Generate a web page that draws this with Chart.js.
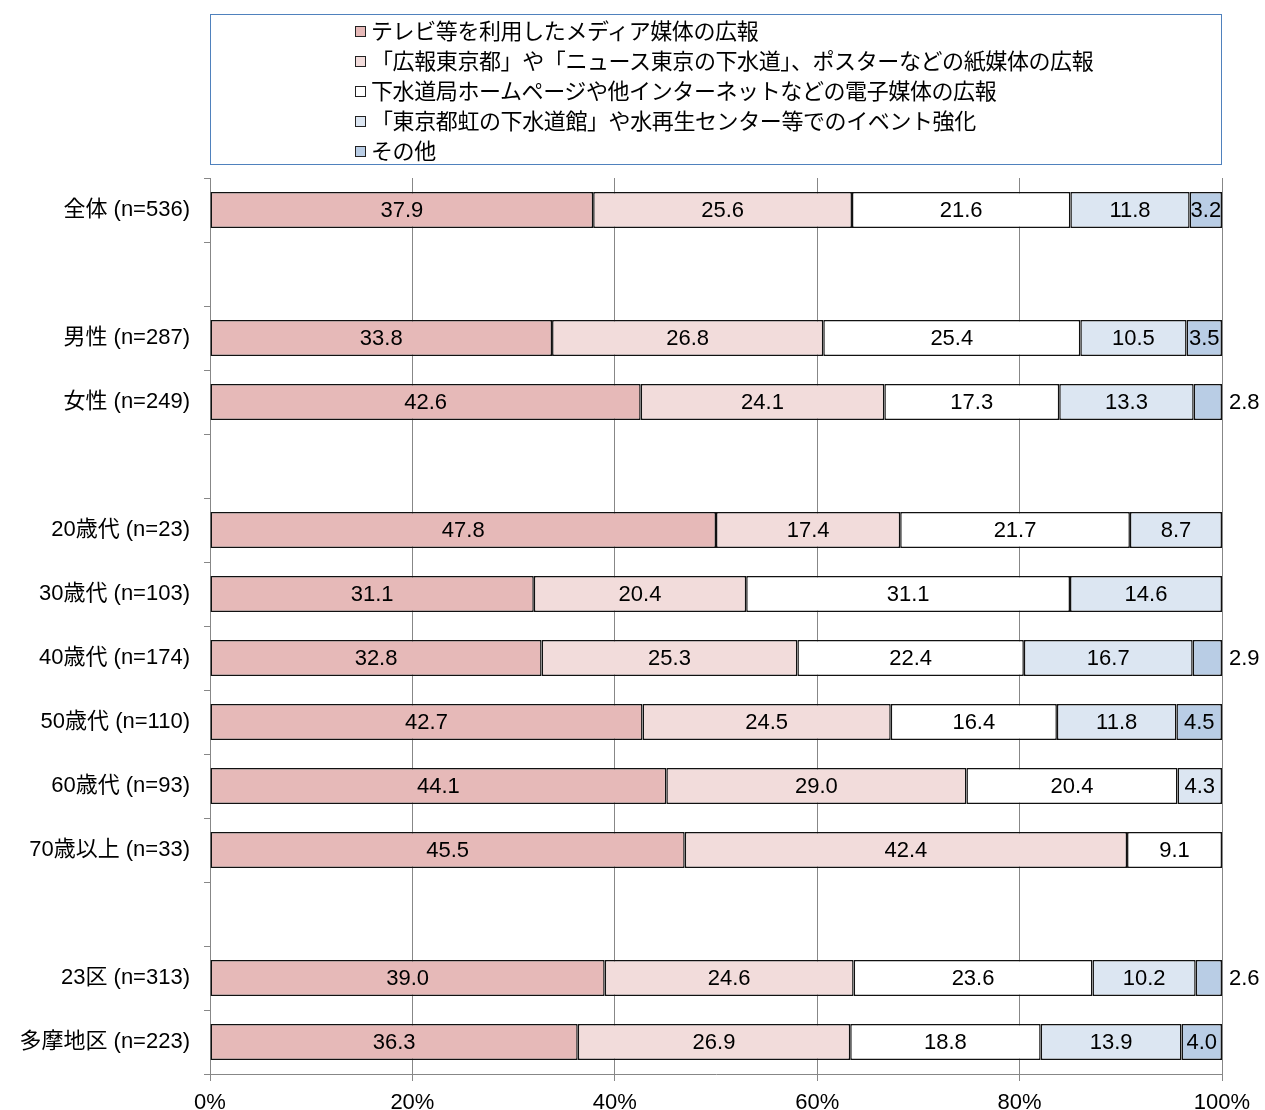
<!DOCTYPE html>
<html>
<head>
<meta charset="utf-8">
<script src="https://cdn.jsdelivr.net/npm/chart.js@4/dist/chart.umd.min.js"></script>
<style>
  body { margin: 0; background: #fff; }
  #wrap { position: relative; width: 1265px; height: 1110px; }
  #legend {
    position: absolute; left: 210px; top: 14px; width: 1010px; height: 149px;
    border: 1px solid #4f81bd; box-sizing: content-box;
    font-family: "Noto Sans CJK JP", sans-serif; font-size: 22px; letter-spacing: -0.4px; color: #000;
  }
  .item { position: absolute; left: 144px; height: 30px; line-height: 30px; white-space: nowrap; }
  .box { display: inline-block; width: 9px; height: 9px; border: 1px solid #222; margin-right: 5px; vertical-align: 2px; }
</style>
</head>
<body>
<div id="wrap">
  <canvas id="chart"></canvas>
  <div id="legend"></div>
</div>
<script>
const categories = ['全体 (n=536)', '', '男性 (n=287)', '女性 (n=249)', '', '20歳代 (n=23)', '30歳代 (n=103)', '40歳代 (n=174)', '50歳代 (n=110)', '60歳代 (n=93)', '70歳以上 (n=33)', '', '23区 (n=313)', '多摩地区 (n=223)'];

const seriesNames = [
  'テレビ等を利用したメディア媒体の広報',
  '「広報東京都」や「ニュース東京の下水道」、ポスターなどの紙媒体の広報',
  '下水道局ホームページや他インターネットなどの電子媒体の広報',
  '「東京都虹の下水道館」や水再生センター等でのイベント強化',
  'その他'
];
const seriesColors = ['#e6b9b8', '#f2dcdb', '#ffffff', '#dce6f2', '#b9cde5'];

const media = [37.9, null, 33.8, 42.6, null, 47.8, 31.1, 32.8, 42.7, 44.1, 45.5, null, 39.0, 36.3];
const paper = [25.6, null, 26.8, 24.1, null, 17.4, 20.4, 25.3, 24.5, 29.0, 42.4, null, 24.6, 26.9];
const web = [21.6, null, 25.4, 17.3, null, 21.7, 31.1, 22.4, 16.4, 20.4, 9.1, null, 23.6, 18.8];
const event = [11.8, null, 10.5, 13.3, null, 8.7, 14.6, 16.7, 11.8, 4.3, null, null, 10.2, 13.9];
const other = [3.2, null, 3.5, 2.8, null, null, null, 2.9, 4.5, null, null, null, 2.6, 4.0];

const xTicks = [0, 20, 40, 60, 80, 100];

const raw = [media, paper, web, event, other];
// 100% stacked: each row is scaled to its own total
const rowSums = categories.map((c, i) => raw.reduce((s, arr) => s + (arr[i] || 0), 0));

const legend = document.getElementById('legend');
seriesNames.forEach((name, i) => {
  const d = document.createElement('div');
  d.className = 'item';
  d.style.top = (-1 + i * 30) + 'px';
  d.innerHTML = '<span class="box" style="background:' + seriesColors[i] + '"></span>' + name;
  legend.appendChild(d);
});

const valueLabels = {
  id: 'valueLabels',
  afterDatasetsDraw(chart) {
    const ctx = chart.ctx;
    ctx.save();
    ctx.font = '22px "Liberation Sans", Arial, sans-serif';
    ctx.fillStyle = '#000';
    ctx.textBaseline = 'middle';
    chart.data.datasets.forEach((ds, di) => {
      const meta = chart.getDatasetMeta(di);
      meta.data.forEach((bar, i) => {
        const v = raw[di][i];
        if (v == null) return;
        const txt = v.toFixed(1);
        if (v < 3) {
          ctx.textAlign = 'left';
          ctx.fillText(txt, bar.x + 7, bar.y + 1);
        } else {
          ctx.textAlign = 'center';
          ctx.fillText(txt, (bar.x + bar.base) / 2, bar.y + 1);
        }
      });
    });
    ctx.restore();
  }
};

Chart.defaults.color = '#000';
Chart.defaults.font.family = '"Liberation Sans", "Noto Sans CJK JP", Arial, sans-serif';
Chart.defaults.font.size = 22;

new Chart(document.getElementById('chart'), {
  type: 'bar',
  data: {
    labels: categories,
    datasets: raw.map((arr, di) => ({
      label: seriesNames[di],
      data: arr.map((v, i) => v == null ? null : v / rowSums[i] * 100),
      backgroundColor: seriesColors[di],
      borderColor: '#111',
      borderWidth: 1.5,
      borderSkipped: false,
      barPercentage: 0.5625,
      categoryPercentage: 1
    }))
  },
  options: {
    indexAxis: 'y',
    responsive: true,
    maintainAspectRatio: false,
    animation: false,
    layout: { padding: { top: 178, right: 43, left: 0, bottom: 0 } },
    plugins: { legend: { display: false }, tooltip: { enabled: false } },
    scales: {
      x: {
        stacked: true,
        min: 0,
        max: 100,
        afterBuildTicks: s => { s.ticks = xTicks.map(v => ({ value: v })); },
        afterFit: s => { s.height = 36; },
        ticks: { callback: v => v + '%', padding: 9, maxRotation: 0 },
        grid: { color: '#878787', tickLength: 7 },
        border: { color: '#878787' }
      },
      y: {
        stacked: true,
        afterFit: s => { s.width = 210; },
        ticks: { padding: 14 },
        grid: { drawOnChartArea: false, offset: true, tickLength: 6, color: '#878787' },
        border: { color: '#878787' }
      }
    }
  },
  plugins: [valueLabels]
});
</script>
</body>
</html>
